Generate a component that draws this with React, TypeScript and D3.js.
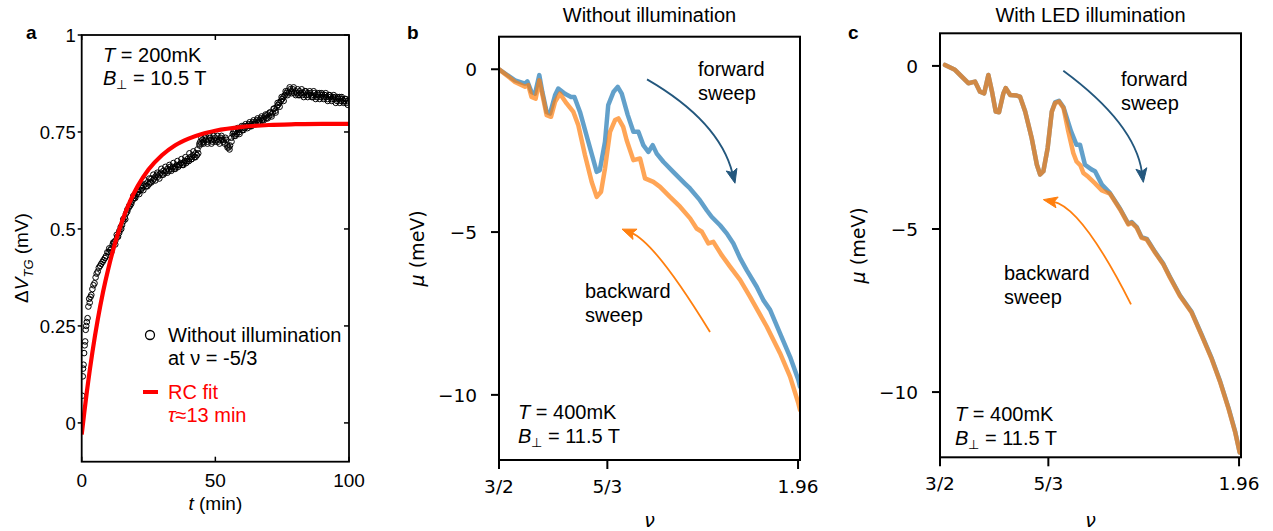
import React from "react";
import * as d3 from "d3";

// ---------------- Panel a data ----------------
const aTime = [
  0.2, 0.4, 0.5, 0.7, 0.9, 1.1, 1.3, 1.5, 1.7, 1.9, 2.2, 2.5, 2.8, 3.0, 3.3, 3.6, 4.0, 4.4, 4.8, 5.2,
  5.6, 6.0, 6.4, 6.9, 7.3, 7.8, 8.2, 8.7, 9.1, 9.6, 10.1, 10.6, 11.1, 11.6, 12.1, 12.6, 13.1, 13.6, 14.1, 14.6,
  15.1, 15.6, 16.1, 16.6, 17.1, 17.6, 18.1, 18.6, 19.1, 19.6, 20.1, 20.6, 21.1, 21.6, 22.1, 22.6, 23.1, 23.6, 24.1, 24.6,
  25.1, 25.6, 26.1, 26.6, 27.1, 27.6, 28.1, 28.6, 29.1, 29.6, 30.1, 30.6, 31.1, 31.6, 32.1, 32.6, 33.1, 33.6, 34.1, 34.6,
  35.1, 35.6, 36.1, 36.6, 37.1, 37.6, 38.1, 38.6, 39.1, 39.6, 40.1, 40.6, 41.1, 41.6, 42.1, 42.6, 43.1, 43.6,
  44.1, 44.4, 44.8, 45.2, 45.6, 46.0, 46.5, 47.0, 47.5, 48.0, 48.5, 49.0, 49.5, 50.0, 50.5, 51.0, 51.5, 52.0, 52.5, 53.0,
  53.5, 54.0, 54.5, 55.0, 55.5, 56.0, 56.5, 57.0, 57.5, 58.0, 58.5, 59.0, 59.5, 60.0, 60.5, 61.0, 61.5, 62.0, 62.5, 63.0,
  63.5, 64.0, 64.5, 65.0, 65.5, 66.0, 66.5, 67.0, 67.5, 68.0, 68.5, 69.0, 69.5, 70.0, 70.5, 71.0, 71.5, 72.0, 72.5, 73.0,
  73.5, 74.0, 74.5, 75.0, 75.5, 76.0, 76.5, 77.0, 77.5, 78.0, 78.5, 79.0, 79.5, 80.0, 80.5, 81.0, 81.5, 82.0, 82.5, 83.0,
  83.5, 84.0, 84.5, 85.0, 85.5, 86.0, 86.5, 87.0, 87.5, 88.0, 88.5, 89.0, 89.5, 90.0, 90.5, 91.0, 91.5, 92.0, 92.5, 93.0,
  93.5, 94.0, 94.5, 95.0, 95.5, 96.0, 96.5, 97.0, 97.5, 98.0, 98.5, 99.0, 99.5,
];
const aDeltaV = [
  0.07, 0.12, 0.14, 0.15, 0.18, 0.2, 0.21, 0.24, 0.25, 0.26, 0.27, 0.3, 0.32, 0.31, 0.325, 0.33, 0.345, 0.355, 0.36, 0.375,
  0.385, 0.39, 0.4, 0.405, 0.41, 0.415, 0.42, 0.425, 0.43, 0.44, 0.44, 0.445, 0.45, 0.46, 0.465, 0.47, 0.485, 0.48, 0.495, 0.505,
  0.51, 0.52, 0.53, 0.54, 0.55, 0.555, 0.56, 0.57, 0.575, 0.58, 0.585, 0.59, 0.595, 0.6, 0.6, 0.605, 0.61, 0.615, 0.61, 0.62,
  0.615, 0.62, 0.63, 0.625, 0.63, 0.635, 0.64, 0.635, 0.64, 0.645, 0.64, 0.65, 0.645, 0.65, 0.655, 0.65, 0.66, 0.655, 0.66, 0.655,
  0.66, 0.665, 0.66, 0.665, 0.67, 0.665, 0.67, 0.675, 0.67, 0.68, 0.675, 0.685, 0.68, 0.69, 0.685, 0.695, 0.69, 0.695,
  0.715, 0.725, 0.72, 0.73, 0.725, 0.735, 0.73, 0.725, 0.73, 0.735, 0.73, 0.725, 0.73, 0.735, 0.73, 0.725, 0.73, 0.735, 0.73, 0.725,
  0.72, 0.73, 0.715, 0.71, 0.715, 0.735, 0.745, 0.74, 0.75, 0.745, 0.755, 0.75, 0.76, 0.755, 0.765, 0.76, 0.765, 0.765, 0.77, 0.765,
  0.77, 0.775, 0.77, 0.775, 0.78, 0.775, 0.78, 0.785, 0.78, 0.785, 0.79, 0.785, 0.795, 0.79, 0.8, 0.795, 0.8, 0.81, 0.805, 0.815,
  0.82, 0.825, 0.83, 0.835, 0.84, 0.845, 0.85, 0.855, 0.85, 0.86, 0.855, 0.86, 0.85, 0.855, 0.85, 0.845, 0.855, 0.85, 0.845, 0.85,
  0.855, 0.845, 0.85, 0.845, 0.85, 0.845, 0.84, 0.85, 0.845, 0.84, 0.845, 0.85, 0.84, 0.845, 0.84, 0.845, 0.84, 0.835, 0.845, 0.84,
  0.835, 0.84, 0.835, 0.84, 0.83, 0.835, 0.84, 0.83, 0.835, 0.83, 0.835, 0.825, 0.83,
];
// second, interleaved sweep of the same measurement
const aTime2 = [
  10.3, 11.05, 11.8, 12.55, 13.3, 14.05, 14.8, 15.55, 16.3, 17.05, 17.8, 18.55, 19.3, 20.05, 20.8, 21.55, 22.3, 23.05, 23.8, 24.55,
  25.3, 26.05, 26.8, 27.55, 28.3, 29.05, 29.8, 30.55, 31.3, 32.05, 32.8, 33.55, 34.3, 35.05, 35.8, 36.55, 37.3, 38.05, 38.8, 39.55,
  40.3, 41.05, 41.8, 42.55, 43.3, 44.05, 44.8, 45.55, 46.3, 47.05, 47.8, 48.55, 49.3, 50.05, 50.8, 51.55, 52.3, 53.05, 53.8, 54.55,
  55.3, 56.05, 56.8, 57.55, 58.3, 59.05, 59.8, 60.55, 61.3, 62.05, 62.8, 63.55, 64.3, 65.05, 65.8, 66.55, 67.3, 68.05, 68.8, 69.55,
  70.3, 71.05, 71.8, 72.55, 73.3, 74.05, 74.8, 75.55, 76.3, 77.05, 77.8, 78.55, 79.3, 80.05, 80.8, 81.55, 82.3, 83.05, 83.8, 84.55,
  85.3, 86.05, 86.8, 87.55, 88.3, 89.05, 89.8, 90.55, 91.3, 92.05, 92.8, 93.55, 94.3, 95.05, 95.8, 96.55, 97.3, 98.05, 98.8, 99.55,
];
const aDeltaV2 = [
  0.45, 0.44, 0.465, 0.46, 0.48, 0.49, 0.5, 0.525, 0.525, 0.545, 0.56, 0.565, 0.585, 0.58, 0.6, 0.59, 0.61, 0.6, 0.625, 0.61,
  0.63, 0.62, 0.64, 0.625, 0.645, 0.63, 0.655, 0.64, 0.66, 0.645, 0.665, 0.65, 0.67, 0.655, 0.675, 0.665, 0.68, 0.665, 0.685, 0.675,
  0.695, 0.68, 0.7, 0.685, 0.705, 0.72, 0.735, 0.72, 0.74, 0.72, 0.74, 0.72, 0.74, 0.725, 0.74, 0.72, 0.74, 0.73, 0.735, 0.71,
  0.705, 0.725, 0.75, 0.74, 0.76, 0.745, 0.765, 0.755, 0.77, 0.76, 0.775, 0.765, 0.78, 0.77, 0.785, 0.775, 0.79, 0.78, 0.795, 0.785,
  0.8, 0.79, 0.81, 0.8, 0.825, 0.815, 0.84, 0.83, 0.855, 0.845, 0.865, 0.85, 0.865, 0.845, 0.86, 0.845, 0.86, 0.84, 0.855, 0.84,
  0.855, 0.84, 0.855, 0.835, 0.85, 0.835, 0.85, 0.835, 0.85, 0.83, 0.845, 0.83, 0.845, 0.825, 0.84, 0.825, 0.84, 0.825, 0.835, 0.82,
];
const fitTime = [0, 1, 2, 3, 4, 6, 8, 10, 12, 15, 18, 21, 25, 30, 35, 40, 45, 50, 60, 70, 80, 90, 100];
const fitDeltaV = [-0.03, 0.029, 0.084, 0.135, 0.182, 0.266, 0.338, 0.399, 0.452, 0.518, 0.57, 0.611, 0.653, 0.69, 0.716, 0.733, 0.745, 0.753, 0.763, 0.768, 0.77, 0.771, 0.771];
const aYTicks = [0, 0.25, 0.5, 0.75, 1];
const aYTickLabels = ["0", "0.25", "0.5", "0.75", "1"];
const aXTicks = [0, 50, 100];
const aXTickLabels = ["0", "50", "100"];

// ---------------- Panel b data (without illumination) ----------------
const bNuFwd = [1.5, 1.5246, 1.54, 1.5436, 1.55, 1.5554, 1.562, 1.5667, 1.5733, 1.5785, 1.5862, 1.5912, 1.6015, 1.6108, 1.616, 1.6246, 1.6374, 1.6503, 1.655, 1.663, 1.668, 1.676, 1.6826, 1.6888, 1.698, 1.7067, 1.7144, 1.722, 1.7297, 1.7364, 1.7426, 1.7528, 1.768, 1.786, 1.7938, 1.809, 1.8195, 1.827, 1.84, 1.8503, 1.8605, 1.8708, 1.881, 1.8964, 1.9066, 1.917, 1.9323, 1.9477, 1.9605, 1.963];
const bMuFwd = [0, -0.34, -0.44, -0.37, -0.7, -0.75, -0.18, -0.7, -1.31, -1.36, -0.8, -0.59, -0.75, -0.85, -0.85, -1.31, -2.23, -3.15, -3.1, -2.23, -1.1, -0.7, -0.54, -0.75, -1.4, -1.92, -1.92, -2.33, -2.54, -2.33, -2.59, -2.84, -3.15, -3.51, -3.66, -4.02, -4.33, -4.53, -4.79, -5.04, -5.35, -5.8, -6.17, -6.68, -7.09, -7.39, -8.11, -8.83, -9.54, -9.75];
const bNuBwd = [1.5, 1.5246, 1.54, 1.545, 1.55, 1.5564, 1.562, 1.568, 1.5733, 1.58, 1.5862, 1.5938, 1.604, 1.6144, 1.622, 1.6323, 1.6426, 1.6503, 1.657, 1.663, 1.6708, 1.6785, 1.6836, 1.691, 1.6964, 1.7067, 1.717, 1.7246, 1.7374, 1.7477, 1.763, 1.7785, 1.794, 1.804, 1.812, 1.822, 1.8297, 1.8426, 1.8554, 1.8708, 1.886, 1.9118, 1.9323, 1.9477, 1.9605, 1.963];
const bMuBwd = [0, -0.39, -0.54, -0.49, -0.85, -0.9, -0.34, -0.9, -1.41, -1.46, -1.0, -0.75, -1.05, -1.31, -1.72, -2.64, -3.46, -3.92, -3.76, -3.05, -1.92, -1.56, -1.51, -1.77, -2.18, -2.79, -2.74, -3.35, -3.46, -3.61, -3.92, -4.22, -4.58, -4.89, -4.99, -5.35, -5.3, -5.71, -6.06, -6.47, -6.98, -7.9, -8.72, -9.44, -10.26, -10.46];

// ---------------- Panel c data (with LED illumination) ----------------
const cNuFwd = [1.5077, 1.523, 1.5436, 1.5538, 1.5615, 1.568, 1.5744, 1.58, 1.5857, 1.5908, 1.5975, 1.601, 1.608, 1.618, 1.623, 1.631, 1.641, 1.649, 1.654, 1.659, 1.6656, 1.672, 1.677, 1.683, 1.69, 1.7015, 1.71, 1.7154, 1.723, 1.7334, 1.7385, 1.749, 1.7615, 1.777, 1.7897, 1.795, 1.8026, 1.81, 1.818, 1.831, 1.8436, 1.854, 1.869, 1.887, 1.9026, 1.918, 1.931, 1.944, 1.954, 1.961];
const cMuFwd = [0.03, -0.12, -0.53, -0.48, -0.79, -0.84, -0.28, -0.79, -1.4, -1.42, -0.84, -0.68, -0.89, -0.91, -0.94, -1.4, -2.21, -3.03, -3.33, -3.23, -2.52, -1.4, -1.12, -1.07, -1.27, -2.0, -2.42, -2.42, -3.03, -3.18, -3.23, -3.64, -3.9, -4.38, -4.84, -4.79, -4.94, -5.25, -5.3, -5.71, -6.07, -6.48, -7.03, -7.54, -8.25, -8.97, -9.68, -10.5, -11.21, -11.85];
const cNuBwd = [1.5077, 1.523, 1.5436, 1.5538, 1.5615, 1.568, 1.5744, 1.58, 1.5857, 1.5908, 1.5975, 1.601, 1.608, 1.618, 1.623, 1.631, 1.641, 1.649, 1.654, 1.659, 1.6656, 1.672, 1.677, 1.683, 1.69, 1.6974, 1.705, 1.71, 1.716, 1.7205, 1.728, 1.7385, 1.749, 1.7615, 1.777, 1.7897, 1.795, 1.8026, 1.81, 1.818, 1.831, 1.8436, 1.854, 1.869, 1.887, 1.9026, 1.918, 1.931, 1.944, 1.954, 1.961];
const cMuBwd = [0.03, -0.12, -0.53, -0.48, -0.79, -0.84, -0.28, -0.79, -1.4, -1.42, -0.84, -0.68, -0.89, -0.91, -0.94, -1.4, -2.21, -3.03, -3.33, -3.23, -2.52, -1.4, -1.14, -1.09, -1.29, -2.01, -2.67, -2.93, -3.05, -3.28, -3.4, -3.6, -3.82, -3.92, -4.4, -4.86, -4.81, -4.96, -5.27, -5.32, -5.73, -6.09, -6.5, -7.05, -7.56, -8.27, -8.99, -9.7, -10.52, -11.23, -11.85];

const muTicks = [0, -5, -10];
const muTickLabels = ["0", "\u22125", "\u221210"];
const nuTicks = [1.5, 5 / 3, 1.96];
const nuTickLabels = ["3/2", "5/3", "1.96"];

// arrow annotations (data units: [nu, mu])
const bFwdArrow = { start: [1.7277, -0.31], ctrl: [1.8392, -1.6], tip: [1.863, -3.5] };
const bBwdArrow = { start: [1.8246, -8.07], ctrl: [1.74, -5.31], tip: [1.6892, -4.91] };
const cFwdArrow = { start: [1.6897, -0.15], ctrl: [1.8, -1.77], tip: [1.8128, -3.57] };
const cBwdArrow = { start: [1.7938, -7.31], ctrl: [1.7185, -4.34], tip: [1.659, -4.1] };

const BLUE = "#1f77b4";
const ORANGE = "#ff7f0e";
const DARKBLUE = "#23577d";
const SANS = "'Liberation Sans', Arial, Helvetica, sans-serif";
const DJV = "'DejaVu Sans', sans-serif";

function Arrow({ sx, sy, a, color }: any) {
  const x0 = sx(a.start[0]), y0 = sy(a.start[1]);
  const cx = sx(a.ctrl[0]), cy = sy(a.ctrl[1]);
  const tx = sx(a.tip[0]), ty = sy(a.tip[1]);
  const dx = tx - cx, dy = ty - cy;
  const L = Math.hypot(dx, dy);
  const ux = dx / L, uy = dy / L;
  const hl = 14, hw = 5.5;
  const bx = tx - ux * hl, by = ty - uy * hl;
  const px = -uy, py = ux;
  const head = `M${tx},${ty}L${bx + px * hw},${by + py * hw}L${bx + ux * 3},${by + uy * 3}L${bx - px * hw},${by - py * hw}Z`;
  return (
    <g>
      <path d={`M${x0},${y0}Q${cx},${cy} ${bx + ux * 4},${by + uy * 4}`} fill="none" stroke={color} strokeWidth={1.8} />
      <path d={head} fill={color} stroke={color} strokeWidth={1} strokeLinejoin="miter" />
    </g>
  );
}

function Bperp({ x, y, value }: any) {
  return (
    <text x={x} y={y} fontFamily={SANS} fontSize={20}>
      <tspan fontStyle="italic">B</tspan>
      <tspan fontSize={13} dy={4}>{"\u22A5"}</tspan>
      <tspan dy={-4}>{` = ${value}`}</tspan>
    </text>
  );
}

function MuPanel({ id, left, right, top, bottom, title, letter, nuF, muF, nuB, muB, fwd, bwd, labels }: any) {
  const sx = d3.scaleLinear().domain([1.5, 1.963]).range([left, right]);
  const sy = d3.scaleLinear().domain([-12, 1]).range([bottom, top]);
  const line = (xs: number[], ys: number[]) =>
    d3.line<number>().x((_, i) => sx(xs[i])).y((_, i) => sy(ys[i]))(xs.map((_, i) => i)) || "";
  const cxMid = (left + right) / 2;
  return (
    <g>
      <defs>
        <clipPath id={id}>
          <rect x={left} y={top} width={right - left} height={bottom - top} />
        </clipPath>
      </defs>
      <text x={cxMid} y={21.5} textAnchor="middle" fontFamily={SANS} fontSize={20}>{title}</text>
      <text x={letter[0]} y={letter[1]} fontFamily={SANS} fontWeight="bold" fontSize={19}>{letter[2]}</text>
      <g clipPath={`url(#${id})`}>
        <path d={line(nuF, muF)} fill="none" stroke={BLUE} strokeOpacity={0.7} strokeWidth={4.5} strokeLinejoin="round" strokeLinecap="round" />
        <path d={line(nuB, muB)} fill="none" stroke={ORANGE} strokeOpacity={0.7} strokeWidth={4.5} strokeLinejoin="round" strokeLinecap="round" />
      </g>
      <Arrow sx={sx} sy={sy} a={fwd} color={DARKBLUE} />
      <Arrow sx={sx} sy={sy} a={bwd} color={ORANGE} />
      <text fontFamily={SANS} fontSize={20}>
        <tspan x={labels.fx} y={labels.fy}>forward</tspan>
        <tspan x={labels.fx} y={labels.fy + 23.5}>sweep</tspan>
      </text>
      <text fontFamily={SANS} fontSize={20}>
        <tspan x={labels.bx} y={labels.by}>backward</tspan>
        <tspan x={labels.bx} y={labels.by + 23.5}>sweep</tspan>
      </text>
      <text x={labels.tx} y={labels.ty} fontFamily={SANS} fontSize={20}>
        <tspan fontStyle="italic">T</tspan>
        <tspan>{" = 400mK"}</tspan>
      </text>
      <Bperp x={labels.tx} y={labels.ty + 24} value="11.5 T" />
      <rect x={left} y={top} width={right - left} height={bottom - top} fill="none" stroke="#000" strokeWidth={2} />
      {muTicks.map((t, i) => (
        <g key={"my" + i}>
          <line x1={left - 8} x2={left} y1={sy(t)} y2={sy(t)} stroke="#000" strokeWidth={2} />
          <text x={left - 22} y={sy(t)} dy="0.36em" textAnchor="end" fontFamily={DJV} fontSize={18.5}>{muTickLabels[i]}</text>
        </g>
      ))}
      {nuTicks.map((t, i) => (
        <g key={"nx" + i}>
          <line x1={sx(t)} x2={sx(t)} y1={bottom} y2={bottom + 9} stroke="#000" strokeWidth={2} />
          <text x={sx(t)} y={bottom + 33} textAnchor="middle" fontFamily={DJV} fontSize={18.5}>{nuTickLabels[i]}</text>
        </g>
      ))}
      <text transform={`translate(${left - 82},${(top + bottom) / 2}) rotate(-90)`} dy="0.36em" textAnchor="middle" fontFamily={DJV} fontSize={19}>
        <tspan fontStyle="italic">{"\u03BC"}</tspan>
        <tspan>{" (meV)"}</tspan>
      </text>
      <text x={cxMid} y={527} textAnchor="middle" fontFamily={DJV} fontSize={19} fontStyle="italic">{"\u03BD"}</text>
    </g>
  );
}

export default function App() {
  // Panel a scales
  const L = 81.7, R = 349, T = 35, B = 461.7;
  const ax = d3.scaleLinear().domain([0, 100]).range([L, R]);
  const ay = d3.scaleLinear().domain([-0.1, 1]).range([B, T]);
  const fitPath =
    d3.line<number>().x((i) => ax(fitTime[i])).y((i) => ay(fitDeltaV[i])).curve(d3.curveMonotoneX)(fitTime.map((_, i) => i)) || "";

  return (
    <svg width={1273} height={531} style={{ position: "absolute", left: 0, top: 0, background: "#fff" }}>
      <rect x={0} y={0} width={1273} height={531} fill="#fff" />
      {/* ---------------- Panel a ---------------- */}
      <defs>
        <clipPath id="clipA">
          <rect x={L} y={T} width={R - L} height={B - T} />
        </clipPath>
      </defs>
      <text x={26} y={39} fontFamily={SANS} fontWeight="bold" fontSize={19}>a</text>
      <g clipPath="url(#clipA)">
        {aTime.map((t, i) => (
          <circle key={"p" + i} cx={ax(t)} cy={ay(aDeltaV[i])} r={2.8} fill="none" stroke="#000" strokeWidth={1} />
        ))}
        {aTime2.map((t, i) => (
          <circle key={"q" + i} cx={ax(t)} cy={ay(aDeltaV2[i])} r={2.8} fill="none" stroke="#000" strokeWidth={1} />
        ))}
        <path d={fitPath} fill="none" stroke="#ff0000" strokeWidth={4.2} />
      </g>
      <rect x={L} y={T} width={R - L} height={B - T} fill="none" stroke="#000" strokeWidth={1.8} />
      {aYTicks.map((t, i) => (
        <g key={"ay" + i}>
          <line x1={L - 4} x2={L} y1={ay(t)} y2={ay(t)} stroke="#000" strokeWidth={1.5} />
          <line x1={R - 5} x2={R} y1={ay(t)} y2={ay(t)} stroke="#000" strokeWidth={1.5} />
          <text x={L - 6} y={ay(t)} dy="0.36em" textAnchor="end" fontFamily={SANS} fontSize={18.5}>{aYTickLabels[i]}</text>
        </g>
      ))}
      {aXTicks.map((t, i) => (
        <g key={"ax" + i}>
          <line x1={ax(t)} x2={ax(t)} y1={B} y2={B - 5} stroke="#000" strokeWidth={1.5} />
          <line x1={ax(t)} x2={ax(t)} y1={T} y2={T + 5} stroke="#000" strokeWidth={1.5} />
          <text x={ax(t)} y={487} textAnchor="middle" fontFamily={SANS} fontSize={19}>{aXTickLabels[i]}</text>
        </g>
      ))}
      <text x={(L + R) / 2} y={510} textAnchor="middle" fontFamily={SANS} fontSize={19}>
        <tspan fontStyle="italic">t</tspan>
        <tspan>{" (min)"}</tspan>
      </text>
      <text transform={`translate(21,258) rotate(-90)`} dy="0.36em" textAnchor="middle" fontFamily={SANS} fontSize={19}>
        <tspan>{"\u0394"}</tspan>
        <tspan fontStyle="italic">V</tspan>
        <tspan fontStyle="italic" fontSize={13} dy={5}>TG</tspan>
        <tspan dy={-5}>{" (mV)"}</tspan>
      </text>
      <text x={103} y={62} fontFamily={SANS} fontSize={20}>
        <tspan fontStyle="italic">T</tspan>
        <tspan>{" = 200mK"}</tspan>
      </text>
      <Bperp x={103} y={85} value="10.5 T" />
      {/* legend */}
      <circle cx={150} cy={335} r={4.5} fill="none" stroke="#000" strokeWidth={1.3} />
      <text x={168} y={342} fontFamily={SANS} fontSize={20}>Without illumination</text>
      <text x={168} y={365} fontFamily={SANS} fontSize={20}>{"at \u03BD = -5/3"}</text>
      <line x1={143} x2={158} y1={392} y2={392} stroke="#ff0000" strokeWidth={4} />
      <text x={168} y={399} fontFamily={SANS} fontSize={20} fill="#ff0000">RC fit</text>
      <text x={168} y={422} fontFamily={SANS} fontSize={20} fill="#ff0000">
        <tspan fontStyle="italic">{"\u03C4"}</tspan>
        <tspan>{"\u224813 min"}</tspan>
      </text>

      {/* ---------------- Panel b ---------------- */}
      <MuPanel
        id="clipB"
        left={499}
        right={800}
        top={36.7}
        bottom={460}
        title="Without illumination"
        letter={[407, 39, "b"]}
        nuF={bNuFwd}
        muF={bMuFwd}
        nuB={bNuBwd}
        muB={bMuBwd}
        fwd={bFwdArrow}
        bwd={bBwdArrow}
        labels={{ fx: 698, fy: 76, bx: 585, by: 298, tx: 518, ty: 419 }}
      />
      {/* ---------------- Panel c ---------------- */}
      <MuPanel
        id="clipC"
        left={940}
        right={1241}
        top={33.3}
        bottom={457.3}
        title="With LED illumination"
        letter={[848, 39, "c"]}
        nuF={cNuFwd}
        muF={cMuFwd}
        nuB={cNuBwd}
        muB={cMuBwd}
        fwd={cFwdArrow}
        bwd={cBwdArrow}
        labels={{ fx: 1121, fy: 86, bx: 1004, by: 280, tx: 955, ty: 421 }}
      />
    </svg>
  );
}
